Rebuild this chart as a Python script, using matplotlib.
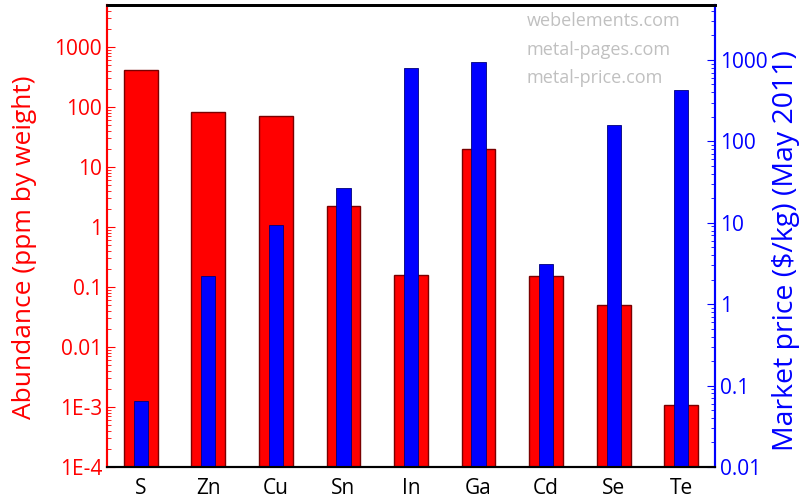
import numpy as np
import matplotlib.pyplot as plt

plt.rcParams['font.family'] = ['Open Sans', 'DejaVu Sans']

elements = ["S", "Zn", "Cu", "Sn", "In", "Ga", "Cd", "Se", "Te"]
abundance = [420, 83, 70, 2.2, 0.16, 20, 0.15, 0.05, 0.001]
price = [0.054, 2.2, 9.4, 27, 800, 950, 3.1, 157, 427]
sources = ["webelements.com", "metal-pages.com", "metal-price.com"]

left_ticks = [1e-4, 1e-3, 0.01, 0.1, 1, 10, 100, 1000]
left_labels = ["1E-4", "1E-3", "0.01", "0.1", "1", "10", "100", "1000"]
right_ticks = [0.01, 0.1, 1, 10, 100, 1000]
right_labels = ["0.01", "0.1", "1", "10", "100", "1000"]

red = "#ff0000"
blue = "#0000ff"

fig = plt.figure(figsize=(8.05, 5), dpi=100)
ax = fig.add_axes([107/805, 33/500, 608/805, 462/500])
ax2 = ax.twinx()

x = np.arange(len(elements))
ax.bar(x, abundance, width=0.5, color=red, edgecolor="#7a0000", linewidth=1, bottom=1e-4)
ax2.bar(x, price, width=0.21, color=blue, edgecolor="#00007a", linewidth=0.6, bottom=0.01)

ax.set_yscale("log")
ax.set_ylim(1e-4, 10**3.7)
ax.set_yticks(left_ticks)
ax.set_yticklabels(left_labels)
ax2.set_yscale("log")
ax2.set_ylim(0.01, 10**3.675)
ax2.set_yticks(right_ticks)
ax2.set_yticklabels(right_labels)
ax.set_xlim(-0.5, len(elements) - 0.5)
ax.set_xticks(x)
ax.set_xticklabels(elements, fontsize=15)

ax.tick_params(axis="y", which="both", direction="in", colors=red, labelsize=15)
ax.tick_params(axis="y", which="major", length=6)
ax.tick_params(axis="y", which="minor", length=3)
ax.tick_params(axis="x", direction="in", length=0, pad=8)
ax2.tick_params(axis="y", which="both", direction="in", colors=blue, labelsize=15)
ax2.tick_params(axis="y", which="major", length=6)
ax2.tick_params(axis="y", which="minor", length=3)

for a in (ax, ax2):
    a.spines["left"].set_color(red)
    a.spines["right"].set_color(blue)
    a.spines["left"].set_linewidth(1.5)
    a.spines["right"].set_linewidth(1.5)
    a.spines["top"].set_linewidth(2)
    a.spines["bottom"].set_linewidth(1.5)

ax.set_ylabel("Abundance (ppm by weight)", color=red, fontsize=19, va="center")
ax.yaxis.set_label_coords(-0.135, 0.476)
ax2.set_ylabel("Market price ($/kg) (May 2011)", color=blue, fontsize=20.5, va="center")
ax2.yaxis.set_label_coords(1.116, 0.468)

for i, s in enumerate(sources):
    ax.text(0.69, 0.965 - i * 0.062, s, transform=ax.transAxes, color="#c0c0c0",
            fontsize=13, va="center", ha="left")

fig.savefig("out.png", dpi=100)
